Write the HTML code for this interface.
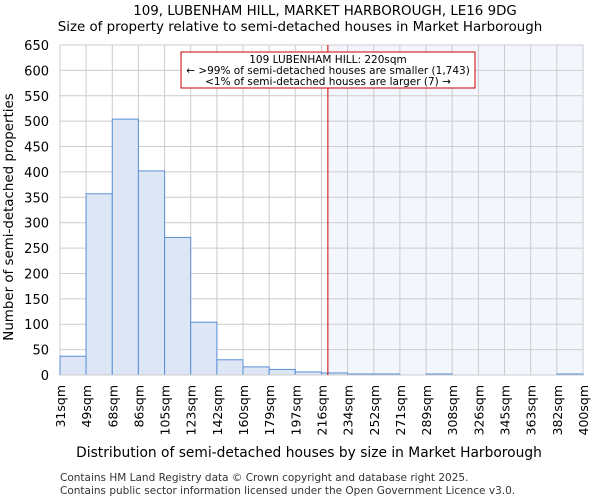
<!DOCTYPE html>
<html><head><meta charset="utf-8"><style>
body{margin:0;background:#fff;font-family:"DejaVu Sans","Liberation Sans",sans-serif;}
</style></head><body>
<svg width="600" height="500" xmlns="http://www.w3.org/2000/svg" font-family="DejaVu Sans, Liberation Sans, sans-serif">
<text x="325" y="15" text-anchor="middle" font-size="13.4">109, LUBENHAM HILL, MARKET HARBOROUGH, LE16 9DG</text>
<text x="300" y="31" text-anchor="middle" font-size="13.4">Size of property relative to semi-detached houses in Market Harborough</text>
<g id="plot"></g>
<text x="309" y="457" text-anchor="middle" font-size="13.8">Distribution of semi-detached houses by size in Market Harborough</text>
<text transform="translate(13,217) rotate(-90)" text-anchor="middle" font-size="13.4">Number of semi-detached properties</text>
<text x="60" y="481" font-size="10.5" fill="#333">Contains HM Land Registry data © Crown copyright and database right 2025.</text>
<text x="60" y="494" font-size="10.5" fill="#333">Contains public sector information licensed under the Open Government Licence v3.0.</text>
</svg>
<script>
const binLabels=["31sqm","49sqm","68sqm","86sqm","105sqm","123sqm","142sqm","160sqm","179sqm","197sqm","216sqm","234sqm","252sqm","271sqm","289sqm","308sqm","326sqm","345sqm","363sqm","382sqm","400sqm"];
const binEdges=[31,49.4,67.9,86.3,104.8,123.2,141.7,160.1,178.6,197,215.5,233.9,252.4,270.8,289.3,307.7,326.2,344.6,363.1,381.5,400];
const counts=[37,357,504,402,271,104,30,16,11,6,4,2,2,0,2,0,0,0,0,2];
const yTicks=[0,50,100,150,200,250,300,350,400,450,500,550,600,650];
const propertySize=220;
const L=60,R=583,T=45,B=375,ymax=650;
const NS="http://www.w3.org/2000/svg";
const g=document.getElementById('plot');
const xs=v=>L+(v-binEdges[0])/(binEdges[binEdges.length-1]-binEdges[0])*(R-L);
const ys=v=>B-v/ymax*(B-T);
function mk(t,a){const e=document.createElementNS(NS,t);for(const k in a)e.setAttribute(k,a[k]);g.appendChild(e);return e;}
const px=xs(propertySize);
let sh=mk('rect',{x:px,y:T,width:R-px,height:B-T,fill:'#f3f6fd'});


yTicks.forEach(v=>{
 let l=mk('line',{x1:L,x2:R,y1:ys(v),y2:ys(v),stroke:'#ccc','stroke-width':1});
 
 
 let t=mk('text',{x:L-11,y:ys(v)+5,'text-anchor':'end','font-size':'13'});
 t.textContent=v;
 
 
});
binEdges.forEach((v,i)=>{
 let l=mk('line',{x1:xs(v),x2:xs(v),y1:T,y2:B,stroke:'#ccc','stroke-width':1});
 
 
 let t=mk('text',{transform:`translate(${xs(v)+5},${B+10}) rotate(-90)`,'text-anchor':'end','font-size':'12.5'});
 t.textContent=binLabels[i];
 
 
});
counts.forEach((c,i)=>{
 const x0=xs(binEdges[i]),x1=xs(binEdges[i+1]);
 let r=mk('rect',{x:x0,y:ys(c),width:x1-x0,height:B-ys(c),fill:binEdges[i]>=propertySize?'#e6ecf7':'#dce6f4',stroke:'#5b8fd6','stroke-width':1});
 
 
});
let ax=mk('line',{x1:L,x2:R,y1:B,y2:B,stroke:'#ccc'});


let ml=mk('line',{x1:px,x2:px,y1:T,y2:B,stroke:'#cc0000','stroke-width':1});


let box=mk('rect',{x:181,y:52,width:294,height:36,fill:'#fff',stroke:'#cc0000','stroke-width':1});


["109 LUBENHAM HILL: 220sqm","← >99% of semi-detached houses are smaller (1,743)","<1% of semi-detached houses are larger (7) →"].forEach((s,i)=>{
 let t=mk('text',{x:328,y:63+i*11,'text-anchor':'middle','font-size':'10.5'});
 t.textContent=s;
 
 
});
</script>
</body></html>
